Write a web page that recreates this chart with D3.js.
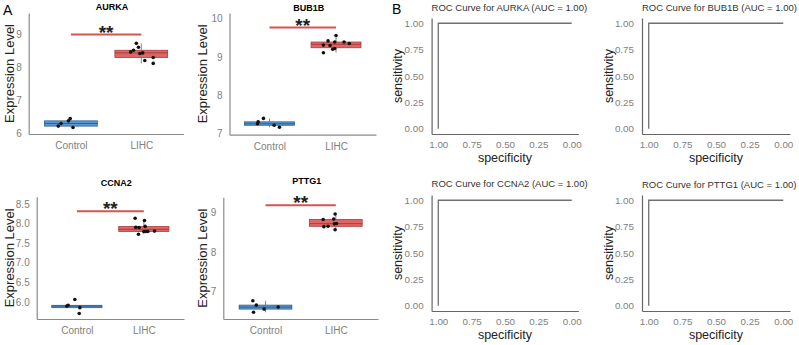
<!DOCTYPE html>
<html>
<head>
<meta charset="utf-8">
<script src="https://cdnjs.cloudflare.com/ajax/libs/d3/7.8.5/d3.min.js"></script>
<style>
  body { margin: 0; background: #fff; }
  svg { display: block; font-family: "Liberation Sans", Arial, sans-serif; }
</style>
</head>
<body>
<svg id="chart" width="799" height="345"></svg>
<script>
// data
const genes = ["AURKA", "BUB1B", "CCNA2", "PTTG1"];
const groups = ["Control", "LIHC"];

const controlValues = [
  [6.21, 6.29, 6.37, 6.44, 6.17],
  [7.25, 7.30, 7.39, 7.21, 7.16],
  [5.89, 5.91, 6.06, 5.85, 5.70],
  [6.77, 6.66, 6.48, 6.56, 6.61]
];
const lihcValues = [
  [8.73, 8.61, 8.47, 8.52, 8.42, 8.44, 8.21, 8.30, 8.12],
  [9.56, 9.42, 9.31, 9.30, 9.39, 9.39, 9.35, 9.20, 9.22, 9.11],
  [8.14, 8.08, 7.91, 7.90, 7.93, 7.73, 7.80, 7.80, 7.80, 7.81],
  [8.96, 8.82, 8.83, 8.65, 8.72, 8.64, 8.71, 8.56]
];
// horizontal jitter of each point, in category units
const controlJitter = [
  [-0.18, -0.14, -0.035, -0.01, 0.03],
  [-0.18, -0.17, -0.09, 0.07, 0.15],
  [-0.15, -0.13, -0.03, 0.045, 0.035],
  [-0.18, -0.13, -0.17, -0.02, 0.18]
];
const lihcJitter = [
  [-0.07, -0.04, -0.15, -0.11, -0.02, 0.02, 0.05, 0.17, 0.17],
  [0, -0.12, -0.19, -0.09, -0.02, 0.12, 0.2, -0.05, -0.02, -0.19],
  [-0.13, 0.01, -0.12, -0.07, 0.02, -0.08, 0, 0.03, 0.06, 0.16],
  [-0.01, -0.18, -0.03, -0.11, 0.01, -0.17, -0.02, -0.01]
];
const sigLevels = [9.0, 9.77, 8.32, 9.18];
const sigLabels = ["**", "**", "**", "**"];
const yDomains = [[5.97, 9.655], [6.963, 10.15], [5.56, 8.69], [6.31, 9.38]];
const yTicks = [[6, 7, 8, 9], [7, 8, 9, 10], [6.0, 6.5, 7.0, 7.5, 8.0, 8.5], [7, 8, 9]];

const aucValues = [1.00, 1.00, 1.00, 1.00];
const rocSpecificity = [1, 1, 0];
const rocSensitivity = [0, 1, 1];
const rocTicks = [0, 0.25, 0.5, 0.75, 1];

const svg = d3.select("#chart");

// layout of the box panels (A) and ROC panels (B)
const boxPanels = [
  { x0: 28.7, x1: 183.5, y0: 13, y1: 134, titleY: 10, labX: 13.5 },
  { x0: 229.5, x1: 376, y0: 13, y1: 134.7, titleY: 11, labX: 206.5 },
  { x0: 36.7, x1: 184, y0: 196.7, y1: 319, titleY: 185.5, labX: 14 },
  { x0: 223.3, x1: 378, y0: 197.3, y1: 319, titleY: 183.5, labX: 207 }
];
const rocPanels = [
  { x0: 431.6, x1: 578.4, y0: 18, y1: 134, titleY: 10.5 },
  { x0: 642, x1: 790, y0: 18, y1: 134, titleY: 11 },
  { x0: 431.6, x1: 578.4, y0: 195, y1: 311, titleY: 187 },
  { x0: 642, x1: 790, y0: 195, y1: 311, titleY: 187.5 }
];

const tickColor = "#808080";
const axisColor = "#8a8a8a";
const fills = { Control: "#5b9bd5", LIHC: "#e06666" };
const strokes = { Control: "#2e5f8c", LIHC: "#a83c3c" };

svg.append("text").attr("x", 3).attr("y", 15).attr("font-size", 14).text("A");
svg.append("text").attr("x", 392).attr("y", 14).attr("font-size", 14).text("B");

genes.forEach((gene, gi) => {
  const p = boxPanels[gi];
  const g = svg.append("g");

  const x = d3.scalePoint().domain(groups).range([p.x0, p.x1]).padding(0.6);
  const unit = x.step();
  const y = d3.scaleLinear().domain(yDomains[gi]).range([p.y1, p.y0]);

  const yAxis = g.append("g")
    .attr("transform", `translate(${p.x0},0)`)
    .call(d3.axisLeft(y).tickValues(yTicks[gi]).tickSize(0).tickPadding(7)
      .tickFormat(gi === 2 ? d3.format(".1f") : d3.format("d")));
  const xAxis = g.append("g")
    .attr("transform", `translate(0,${p.y1})`)
    .call(d3.axisBottom(x).tickSize(0).tickPadding(8));
  [yAxis, xAxis].forEach(a => {
    a.select(".domain").attr("stroke", axisColor).attr("stroke-width", 1.2);
    a.selectAll("text").attr("fill", tickColor).attr("font-size", 10);
  });

  g.append("text")
    .attr("transform", `translate(${p.labX},${(p.y0 + p.y1) / 2}) rotate(-90)`)
    .attr("text-anchor", "middle")
    .attr("font-size", 13)
    .attr("fill", "#222")
    .text("Expression Level");

  g.append("text")
    .attr("x", (p.x0 + p.x1) / 2 + 6)
    .attr("y", p.titleY)
    .attr("text-anchor", "middle")
    .attr("font-size", 9)
    .attr("font-weight", "bold")
    .text(gene);

  const sets = [
    { grp: "Control", vals: controlValues[gi], jit: controlJitter[gi] },
    { grp: "LIHC", vals: lihcValues[gi], jit: lihcJitter[gi] }
  ];

  sets.forEach(s => {
    const sorted = s.vals.slice().sort(d3.ascending);
    const q1 = d3.quantile(sorted, 0.25);
    const med = d3.quantile(sorted, 0.5);
    const q3 = d3.quantile(sorted, 0.75);
    const iqr = q3 - q1;
    const lo = d3.min(sorted.filter(v => v >= q1 - 1.5 * iqr));
    const hi = d3.max(sorted.filter(v => v <= q3 + 1.5 * iqr));
    const cx = x(s.grp);
    const bw = unit * 0.75;

    g.append("line")
      .attr("x1", cx).attr("x2", cx)
      .attr("y1", y(hi)).attr("y2", y(q3))
      .attr("stroke", "#555").attr("stroke-width", 0.7);
    g.append("line")
      .attr("x1", cx).attr("x2", cx)
      .attr("y1", y(q1)).attr("y2", y(lo))
      .attr("stroke", "#555").attr("stroke-width", 0.7);
    g.append("rect")
      .attr("x", cx - bw / 2)
      .attr("y", y(q3))
      .attr("width", bw)
      .attr("height", Math.max(y(q1) - y(q3), 1))
      .attr("fill", fills[s.grp])
      .attr("stroke", strokes[s.grp])
      .attr("stroke-width", 0.8);
    g.append("line")
      .attr("x1", cx - bw / 2).attr("x2", cx + bw / 2)
      .attr("y1", y(med)).attr("y2", y(med))
      .attr("stroke", strokes[s.grp]).attr("stroke-width", 1);

    g.selectAll(null)
      .data(s.vals)
      .enter()
      .append("circle")
      .attr("cx", (d, i) => cx + s.jit[i] * unit)
      .attr("cy", d => y(d))
      .attr("r", 1.8)
      .attr("fill", "#111");
  });

  // significance bar
  const sy = y(sigLevels[gi]);
  g.append("line")
    .attr("x1", x("Control")).attr("x2", x("LIHC"))
    .attr("y1", sy).attr("y2", sy)
    .attr("stroke", "#d9534f").attr("stroke-width", 2);
  g.append("text")
    .attr("x", (x("Control") + x("LIHC")) / 2)
    .attr("y", sy + 4)
    .attr("text-anchor", "middle")
    .attr("font-size", 19)
    .attr("font-weight", "bold")
    .attr("fill", "#222")
    .text(sigLabels[gi]);
});

genes.forEach((gene, gi) => {
  const p = rocPanels[gi];
  const g = svg.append("g");

  const x = d3.scaleLinear().domain([1.05, -0.05]).range([p.x0, p.x1]);
  const y = d3.scaleLinear().domain([-0.05, 1.05]).range([p.y1, p.y0]);

  const yAxis = g.append("g")
    .attr("transform", `translate(${p.x0},0)`)
    .call(d3.axisLeft(y).tickValues(rocTicks).tickSize(0).tickPadding(8).tickFormat(d3.format(".2f")));
  const xAxis = g.append("g")
    .attr("transform", `translate(0,${p.y1})`)
    .call(d3.axisBottom(x).tickValues(rocTicks).tickSize(0).tickPadding(7).tickFormat(d3.format(".2f")));
  [yAxis, xAxis].forEach(a => {
    a.select(".domain").attr("stroke", "#666").attr("stroke-width", 1.2);
    a.selectAll("text").attr("fill", tickColor).attr("font-size", 9.8);
  });

  g.append("text")
    .attr("x", p.x0)
    .attr("y", p.titleY)
    .attr("font-size", 9.5)
    .attr("fill", "#333")
    .text(`ROC Curve for ${gene} (AUC = ${aucValues[gi].toFixed(2)})`);

  g.append("text")
    .attr("transform", `translate(${p.x0 - 29.5},${(p.y0 + p.y1) / 2}) rotate(-90)`)
    .attr("text-anchor", "middle")
    .attr("font-size", 12.5)
    .attr("fill", "#222")
    .text("sensitivity");
  g.append("text")
    .attr("x", (p.x0 + p.x1) / 2)
    .attr("y", p.y1 + 28)
    .attr("text-anchor", "middle")
    .attr("font-size", 12.5)
    .attr("fill", "#222")
    .text("specificity");

  const line = d3.line()
    .x((d, i) => x(rocSpecificity[i]))
    .y(d => y(d));
  g.append("path")
    .datum(rocSensitivity)
    .attr("d", line)
    .attr("fill", "none")
    .attr("stroke", "#707070")
    .attr("stroke-width", 1.3);
});
</script>
</body>
</html>
